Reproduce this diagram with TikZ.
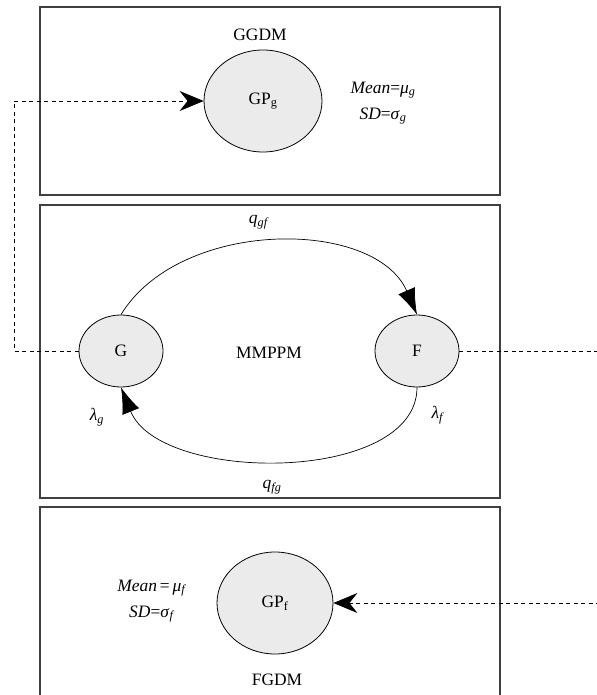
\documentclass[tikz,border=0pt]{standalone}
\usepackage{fontspec}
\setmainfont{Liberation Serif}
\usetikzlibrary{arrows.meta,shapes.geometric}

\tikzset{
  model/.style={draw=black!75,line width=1.1pt},
  state/.style={ellipse,draw,fill=black!8,line width=0.8pt,inner sep=0pt},
  link/.style={line width=0.7pt,dash pattern=on 4bp off 3.5bp}
}

\begin{document}
\begin{tikzpicture}[x=1bp,y=-1bp,font=\fontsize{17.5}{26}\selectfont]
        \useasboundingbox (0,0) rectangle (597,695);
        % three model boxes
        \draw[model] (40,7) rectangle (500,195);
        \draw[model] (40,205) rectangle (500,498);
        \draw[model] (40,507) rectangle (500,710);
        % states
        \node[state,minimum width=118bp,minimum height=102bp] (GPg) at (263,101) {GP\textsubscript{g}};
        \node[state,minimum width=84bp,minimum height=72bp] (G) at (121,351) {G};
        \node[state,minimum width=84bp,minimum height=72bp] (F) at (417,351) {F};
        \node[state,minimum width=116bp,minimum height=102bp] (GPf) at (275,603) {GP\textsubscript{f}};
        \coordinate (LT) at (14,351);
        \coordinate (RT) at (610,351);
        % transitions
        \begin{scope}[line width=0.7pt,>={Latex[length=26bp,width=18bp]}]
            \draw[->] (G.north) .. controls (180,218) and (375,218) .. (F.north);
            \draw[->] (F.south) .. controls (417,484) and (160,484) .. (G.south);
        \end{scope}
        % links to the generation models
        \begin{scope}[link,>={Stealth[length=24bp,width=20bp,inset=8bp]}]
            \draw[->] (G.west) -- (LT) |- (GPg.west);
            \draw[->] (F.east) -- (RT) |- (GPf.east);
        \end{scope}
        % labels
        \node (ggdm) at (260,35) {GGDM};
        \node (mmppm) at (269,353) {MMPPM};
        \node (fgdm) at (277,680) {FGDM};
        \node[align=center] (momg) at (383,103) {\textit{Mean}=\textit{μ}\textsubscript{\textit{g}}\\ \textit{SD}=\textit{σ}\textsubscript{\textit{g}}};
        \node[align=center] (momf) at (152,601) {\textit{Mean}\,=\,\textit{μ}\textsubscript{\textit{f}}\\ \textit{SD}=\textit{σ}\textsubscript{\textit{f}}};
        \node (qgf) at (259,222) {\textit{q}\textsubscript{\textit{gf}}};
        \node (qfg) at (272,487) {\textit{q}\textsubscript{\textit{fg}}};
        \node (lg) at (97,417) {\textit{λ}\textsubscript{\textit{g}}};
        \node (lf) at (438,415) {\textit{λ}\textsubscript{\textit{f}}};
    \end{tikzpicture}
\end{document}
